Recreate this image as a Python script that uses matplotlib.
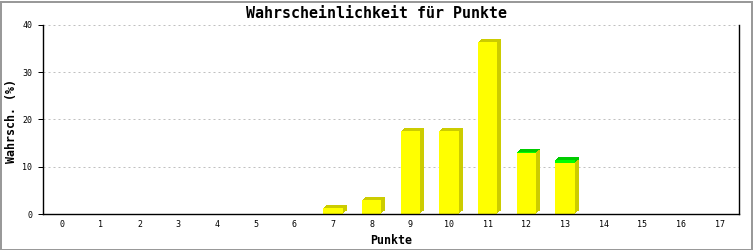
import matplotlib
matplotlib.use("Agg")
import matplotlib.pyplot as plt
import matplotlib.transforms as mtransforms
from matplotlib.patches import Rectangle

categories = list(range(18))
yellow_vals = [0, 0, 0, 0, 0, 0, 0, 1.3, 3.0, 17.6, 17.6, 36.4, 12.9, 10.8, 0, 0, 0, 0]
green_vals = [0, 0, 0, 0, 0, 0, 0, 0, 0, 0, 0, 0, 0.2, 0.6, 0, 0, 0, 0]
y_ticks = [0, 10, 20, 30, 40]

title = "Wahrscheinlichkeit für Punkte"
xlabel = "Punkte"
ylabel = "Wahrsch. (%)"

W, H, DPI = 753, 250, 100
fig = plt.figure(figsize=(W / DPI, H / DPI), dpi=DPI)
fig.patch.set_facecolor("white")

L, R, B, T = 43, 739, 214, 25
ax = fig.add_axes([L / W, 1 - B / H, (R - L) / W, (B - T) / H])

mono = "DejaVu Sans Mono"
px = 72 / DPI  # points per pixel

width = 0.5
offsets = [(1, 1), (2, 2), (3, 3), (4, 3)]

def shadow_bars(vals, bottom, color):
    for dx, dy in offsets:
        tr = mtransforms.ScaledTranslation(dx / DPI, dy / DPI, fig.dpi_scale_trans)
        ax.bar(categories, vals, width=width, bottom=bottom, color=color,
               linewidth=0, transform=ax.transData + tr, zorder=2)

# shadows (3D side and top faces)
shadow_bars(yellow_vals, 0, "#cccc00")
shadow_bars(green_vals, yellow_vals, "#00cc00")
# fronts
ax.bar(categories, yellow_vals, width=width, color="#ffff00", linewidth=0, zorder=3)
ax.bar(categories, green_vals, width=width, bottom=yellow_vals, color="#00ff00",
       linewidth=0, zorder=3)

ax.set_xlim(-0.5, len(categories) - 0.5)
ax.set_ylim(0, 40)
ax.set_xticks(categories)
ax.set_xticklabels([str(c) for c in categories], fontfamily=mono, fontsize=6)
ax.set_yticks(y_ticks)
ax.set_yticklabels([str(v) for v in y_ticks], fontfamily=mono, fontsize=6)
ax.tick_params(axis="x", length=0, pad=4.5)
ax.tick_params(axis="y", length=5 * px, width=1 * px, direction="out", pad=4)

ax.yaxis.grid(True, color="#c0c0c0", linewidth=1 * px, linestyle=(0, (2, 3)))
ax.set_axisbelow(True)

for s in ["left", "bottom", "right"]:
    ax.spines[s].set_linewidth(1.4 * px)
    ax.spines[s].set_color("black")
ax.spines["top"].set_visible(False)
ax.spines["bottom"].set_zorder(5)

fig.text(376 / W, 1 - 13 / H, title, ha="center", va="center",
         fontfamily=mono, fontweight="bold", fontsize=10.8)
fig.text(391 / W, 1 - 240 / H, xlabel, ha="center", va="center",
         fontfamily=mono, fontweight="bold", fontsize=8.4)
fig.text(12 / W, 1 - 121 / H, ylabel, ha="center", va="center", rotation=90,
         fontfamily=mono, fontweight="bold", fontsize=8.4)

# outer gray frame
fig.patches.append(Rectangle((0.5 / W, 0.5 / H), 1 - 2 / W, 1 - 2 / H,
                             transform=fig.transFigure, fill=False,
                             edgecolor="#999999", linewidth=2 * px))

fig.savefig("out.png", dpi=DPI)
